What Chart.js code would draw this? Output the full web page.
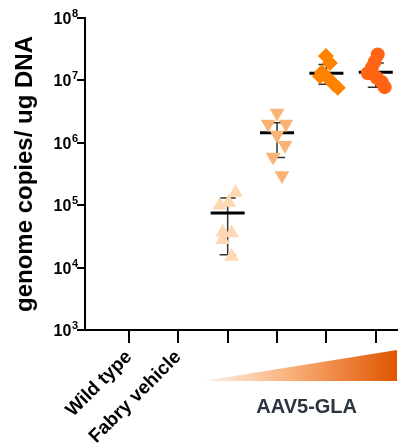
<!DOCTYPE html>
<html>
<head>
<meta charset="utf-8">
<script src="https://cdn.jsdelivr.net/npm/chart.js@4.4.1/dist/chart.umd.min.js"></script>
<style>
  html, body { margin: 0; padding: 0; background: #fff; }
  #wrap { width: 408px; height: 448px; position: relative; }
</style>
</head>
<body>
<div id="wrap"><canvas id="grafico"></canvas></div>
<script>
// categorias do eixo x (só as duas primeiras têm rótulo)
const categories = ["Wild type", "Fabry vehicle", "", "", "", ""];
const yTicks = [1e3, 1e4, 1e5, 1e6, 1e7, 1e8];

// pontos individuais (x com dispersão, y em cópias/ug)
const dose1X = [3.16, 3.02, 2.84, 2.90, 3.08, 2.90, 3.08];
const dose1Y = [1.6e5, 1.1e5, 1.0e5, 3.7e4, 3.6e4, 2.8e4, 1.5e4];
const dose2X = [4.00, 3.82, 4.18, 4.00, 4.16, 3.92, 4.10];
const dose2Y = [3.0e6, 2.0e6, 2.0e6, 1.33e6, 9.1e5, 5.9e5, 3.0e5];
const dose3X = [4.99, 5.07, 4.91, 4.87, 5.05, 5.15, 5.23];
const dose3Y = [2.45e7, 1.9e7, 1.35e7, 1.17e7, 1.05e7, 8.7e6, 7.6e6];
const dose4X = [6.04, 5.98, 5.92, 5.84, 6.02, 6.12, 6.18];
const dose4Y = [2.6e7, 2.0e7, 1.6e7, 1.3e7, 1.1e7, 9.4e6, 7.8e6];

// média e barras de erro por grupo
const means   = [null, null, 7.5e4, 1.45e6, 1.3e7, 1.35e7];
const errLow  = [null, null, 1.6e4, 5.8e5, 8.7e6, 7.8e6];
const errHigh = [null, null, 1.3e5, 2.1e6, 1.8e7, 1.9e7];

const doseLabel = "AAV5-GLA";
const FONT = "'Liberation Sans', Arial, sans-serif";
Chart.defaults.font.family = FONT;

function pts(xs, ys) {
  return xs.map((x, i) => ({ x: x, y: ys[i] }));
}

// desenha médias e barras de erro antes dos pontos
const meanErr = {
  id: "meanErr",
  beforeDatasetsDraw(chart) {
    const { ctx, scales: { x, y } } = chart;
    ctx.save();
    means.forEach((m, i) => {
      if (m == null) return;
      const px = x.getPixelForValue(i + 1);
      const yLo = y.getPixelForValue(errLow[i]);
      const yHi = y.getPixelForValue(errHigh[i]);
      ctx.strokeStyle = "#333";
      ctx.lineWidth = 1.5;
      ctx.beginPath();
      ctx.moveTo(px, yHi); ctx.lineTo(px, yLo);
      ctx.moveTo(px - 8, yHi); ctx.lineTo(px + 8, yHi);
      ctx.moveTo(px - 8, yLo); ctx.lineTo(px + 8, yLo);
      ctx.stroke();
      ctx.strokeStyle = "#000";
      ctx.lineWidth = 3;
      const ym = y.getPixelForValue(m);
      ctx.beginPath();
      ctx.moveTo(px - 17, ym); ctx.lineTo(px + 17, ym);
      ctx.stroke();
    });
    ctx.restore();
  }
};

// rótulos 10^n do eixo y com expoente em sobrescrito
const powLabels = {
  id: "powLabels",
  afterDraw(chart) {
    const { ctx, scales: { y } } = chart;
    const xr = y.right - 7;
    ctx.save();
    ctx.fillStyle = "#000";
    ctx.textBaseline = "alphabetic";
    ctx.textAlign = "right";
    yTicks.forEach(v => {
      const py = y.getPixelForValue(v);
      const exp = String(Math.round(Math.log10(v)));
      ctx.font = "bold 11px " + FONT;
      const w = ctx.measureText(exp).width;
      ctx.fillText(exp, xr, py - 1);
      ctx.font = "bold 16px " + FONT;
      ctx.fillText("10", xr - w - 0.5, py + 6);
    });
    ctx.restore();
  }
};

// cunha em degradê com o rótulo da dose
const doseWedge = {
  id: "doseWedge",
  afterDraw(chart) {
    const { ctx, chartArea, scales: { x } } = chart;
    const left = x.getPixelForValue(2.5);
    const right = chartArea.right;
    const bottom = chartArea.bottom + 51;
    const top = chartArea.bottom + 20;
    const g = ctx.createLinearGradient(left, 0, right, 0);
    g.addColorStop(0, "#fff3ea");
    g.addColorStop(0.45, "#f9b07a");
    g.addColorStop(1, "#e05500");
    ctx.save();
    ctx.fillStyle = g;
    ctx.beginPath();
    ctx.moveTo(left, bottom);
    ctx.lineTo(right, bottom);
    ctx.lineTo(right, top);
    ctx.closePath();
    ctx.fill();
    ctx.fillStyle = "#2b3440";
    ctx.font = "bold 20px " + FONT;
    ctx.textAlign = "center";
    ctx.textBaseline = "middle";
    ctx.fillText(doseLabel, x.getPixelForValue(4.6), chartArea.bottom + 77);
    ctx.restore();
  }
};

const ctx = document.getElementById("grafico").getContext("2d");
new Chart(ctx, {
  type: "scatter",
  data: {
    datasets: [
      { data: pts(dose1X, dose1Y), pointStyle: "triangle", pointRadius: 8.5, backgroundColor: "#fdd8b3", borderWidth: 0 },
      { data: pts(dose2X, dose2Y), pointStyle: "triangle", rotation: 180, pointRadius: 8.5, backgroundColor: "#f9b475", borderWidth: 0 },
      { data: pts(dose3X, dose3Y), pointStyle: "rectRot", pointRadius: 8, backgroundColor: "#ff8200", borderWidth: 0 },
      { data: pts(dose4X, dose4Y), pointStyle: "circle", pointRadius: 7, backgroundColor: "#ff6414", borderWidth: 0 }
    ]
  },
  options: {
    responsive: true,
    maintainAspectRatio: false,
    animation: false,
    layout: { padding: { top: 18, right: 11, left: 0, bottom: 0 } },
    plugins: {
      legend: { display: false },
      tooltip: { enabled: false }
    },
    scales: {
      x: {
        type: "linear",
        min: 0.11,
        max: 6.43,
        afterBuildTicks: (s) => { s.ticks = categories.map((c, i) => ({ value: i + 1 })); },
        afterFit: (s) => { s.height = 118; },
        ticks: {
          minRotation: 45,
          maxRotation: 45,
          padding: 3,
          color: "#000",
          font: { size: 19, weight: "bold" },
          callback: (v) => categories[Math.round(v) - 1] || ""
        },
        grid: { drawOnChartArea: false, color: "#000", lineWidth: 2, tickLength: 13 },
        border: { color: "#000", width: 2 }
      },
      y: {
        type: "logarithmic",
        min: 1e3,
        max: 1e8,
        afterBuildTicks: (s) => { s.ticks = yTicks.map(v => ({ value: v })); },
        afterFit: (s) => { s.width = 85; },
        ticks: { display: false },
        grid: { drawOnChartArea: false, color: "#000", lineWidth: 2, tickLength: 8 },
        border: { color: "#000", width: 2 },
        title: {
          display: true,
          text: "genome copies/ ug DNA",
          color: "#000",
          font: { size: 24, weight: "bold" },
          padding: { top: 11, bottom: 0 }
        }
      }
    }
  },
  plugins: [meanErr, powLabels, doseWedge]
});
</script>
</body>
</html>
